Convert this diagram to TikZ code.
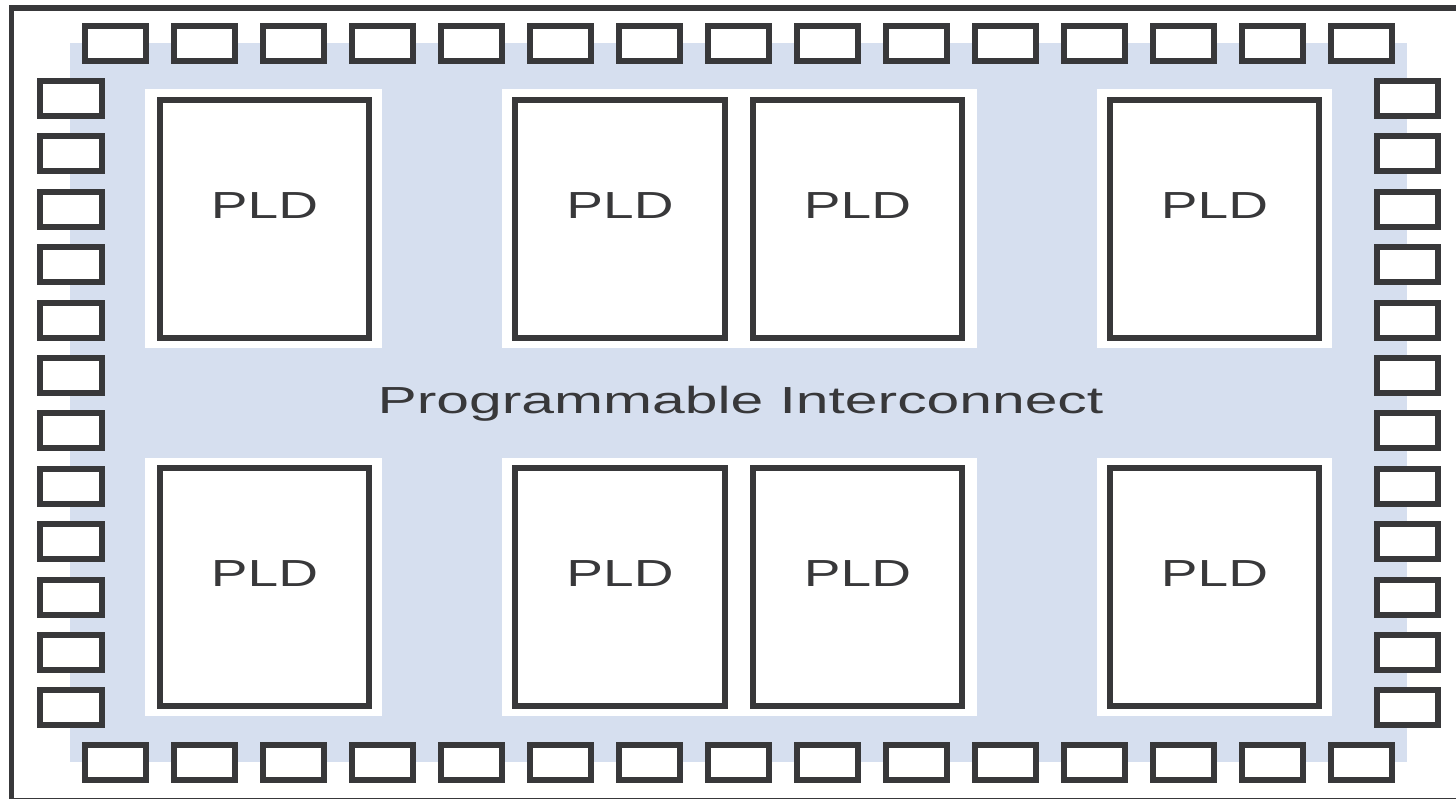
\documentclass[tikz,border=0pt]{standalone}
\usepackage{fontspec}
\setmainfont{Liberation Sans}
\definecolor{chipblue}{RGB}{214,223,239}
\definecolor{chipgray}{RGB}{56,56,58}
\tikzset{
  pad/.style={draw=chipgray,line width=6pt,fill=white},
  pldbox/.style={draw=chipgray,line width=6pt,fill=white},
  pldtext/.style={text=chipgray,anchor=base,inner sep=0pt,
    font=\fontsize{37.7}{40}\selectfont}
}

\begin{document}
\begin{tikzpicture}[x=1pt,y=-1pt]
		\useasboundingbox (0,0) rectangle (1456,798);
		\clip (0,0) rectangle (1456,798);
		\path[fill=white] (0,0) rectangle (1456,798);
		\path[draw=chipgray,line width=5.5pt] (11.5,8) rectangle (1470,801);
		
		% interconnect area and the gaps round the blocks
		\path[fill=chipblue] (70,43) rectangle (1407,762);
		\path[fill=white] (145,89) rectangle (382,348);
		\path[fill=white] (502,89) rectangle (977,348);
		\path[fill=white] (1097,89) rectangle (1332,348);
		\path[fill=white] (145,458) rectangle (382,716);
		\path[fill=white] (502,458) rectangle (977,716);
		\path[fill=white] (1097,458) rectangle (1332,716);
		
		% I/O pads
		\foreach \i in {0,...,14} {
			\path[pad] (85+89*\i,26) rectangle ++(61,35);
			\path[pad] (85+89*\i,745) rectangle ++(61,35);
		}
		\foreach \j in {0,...,11} {
			\path[pad] (40,81+55.4*\j) rectangle ++(62,35);
			\path[pad] (1377,81+55.4*\j) rectangle ++(61,35);
		}
		
		% logic blocks
		\path[pldbox] (160,100) rectangle (369,338);
		\path[pldbox] (515,100) rectangle (725,338);
		\path[pldbox] (753,100) rectangle (962,338);
		\path[pldbox] (1110,100) rectangle (1319,338);
		\path[pldbox] (160,468) rectangle (369,706);
		\path[pldbox] (515,468) rectangle (725,706);
		\path[pldbox] (753,468) rectangle (962,706);
		\path[pldbox] (1110,468) rectangle (1319,706);
		
		\node[pldtext] (pldA) at (264.5,218) {\scalebox{1.46}[1]{PLD}};
		\node[pldtext] (pldB) at (620,218) {\scalebox{1.46}[1]{PLD}};
		\node[pldtext] (pldC) at (857.5,218) {\scalebox{1.46}[1]{PLD}};
		\node[pldtext] (pldD) at (1214.5,218) {\scalebox{1.46}[1]{PLD}};
		\node[pldtext] (pldE) at (264.5,586) {\scalebox{1.46}[1]{PLD}};
		\node[pldtext] (pldF) at (620,586) {\scalebox{1.46}[1]{PLD}};
		\node[pldtext] (pldG) at (857.5,586) {\scalebox{1.46}[1]{PLD}};
		\node[pldtext] (pldH) at (1214.5,586) {\scalebox{1.46}[1]{PLD}};
		
		\node[pldtext] (fabric) at (740.5,413) {\scalebox{1.56}[1]{Programmable Interconnect}};
	\end{tikzpicture}
\end{document}
